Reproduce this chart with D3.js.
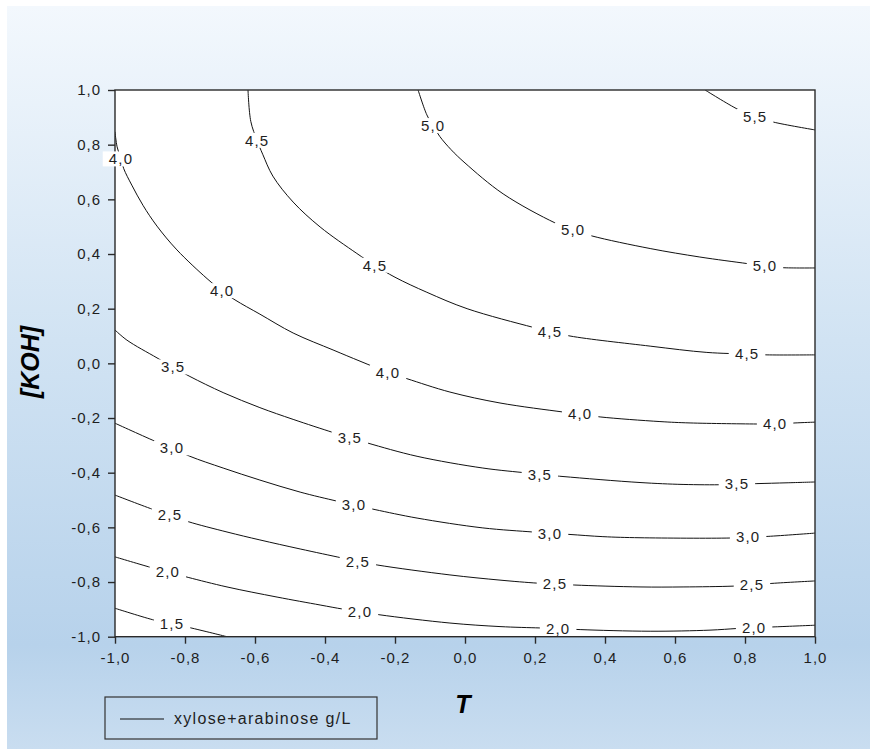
<!DOCTYPE html>
<html>
<head>
<meta charset="utf-8">
<script src="https://cdn.jsdelivr.net/npm/d3@7"></script>
<style>
body { margin: 0; background: #fff; }
text { font-family: Arial, "Liberation Sans", sans-serif; }
</style>
</head>
<body>
<div id="chart"></div>
<script>
/* global d3 */

// Contour levels (xylose+arabinose g/L)
const levels = [1.5, 2.0, 2.5, 3.0, 3.5, 4.0, 4.5, 5.0, 5.5];

// Traced contour points [T, KOH]
const line15 = [[-1, -0.896], [-0.886, -0.940], [-0.837, -0.953], [-0.786, -0.967], [-0.680, -1.0]];
const line20 = [[-1, -0.708], [-0.891, -0.749], [-0.849, -0.763], [-0.791, -0.783], [-0.680, -0.818], [-0.537, -0.855],
    [-0.414, -0.884], [-0.349, -0.899], [-0.300, -0.908], [-0.243, -0.920], [-0.043, -0.950], [0.100, -0.963],
    [0.214, -0.968], [0.266, -0.970], [0.329, -0.974], [0.529, -0.980], [0.700, -0.976], [0.777, -0.970],
    [0.826, -0.967], [0.886, -0.964], [1, -0.958]];
const line25 = [[-1, -0.482], [-0.886, -0.537], [-0.843, -0.555], [-0.791, -0.579], [-0.680, -0.617], [-0.586, -0.646],
    [-0.471, -0.679], [-0.351, -0.712], [-0.306, -0.724], [-0.249, -0.738], [-0.043, -0.774], [0.100, -0.793],
    [0.206, -0.804], [0.257, -0.807], [0.314, -0.811], [0.500, -0.818], [0.623, -0.818], [0.766, -0.815],
    [0.820, -0.811], [0.877, -0.805], [1, -0.796]];
const line30 = [[-1, -0.219], [-0.880, -0.288], [-0.837, -0.310], [-0.786, -0.340], [-0.691, -0.383], [-0.586, -0.427],
    [-0.471, -0.471], [-0.366, -0.504], [-0.317, -0.518], [-0.257, -0.535], [-0.137, -0.566], [0.051, -0.602],
    [0.194, -0.617], [0.243, -0.622], [0.300, -0.626], [0.394, -0.634], [0.500, -0.638], [0.757, -0.639],
    [0.809, -0.636], [0.866, -0.633], [1, -0.621]];
const line35 = [[-1, 0.122], [-0.966, 0.085], [-0.880, 0.020], [-0.834, -0.014], [-0.786, -0.048], [-0.691, -0.107],
    [-0.586, -0.162], [-0.491, -0.205], [-0.377, -0.253], [-0.329, -0.272], [-0.277, -0.292], [-0.137, -0.340],
    [0.051, -0.383], [0.177, -0.401], [0.214, -0.406], [0.280, -0.414], [0.500, -0.436], [0.623, -0.443],
    [0.737, -0.444], [0.777, -0.442], [0.834, -0.440], [0.920, -0.437], [1, -0.434]];
const line40 = [[-1, 0.847], [-0.994, 0.792], [-0.983, 0.747], [-0.975, 0.712], [-0.952, 0.652], [-0.920, 0.578],
    [-0.880, 0.502], [-0.823, 0.415], [-0.737, 0.310], [-0.694, 0.265], [-0.657, 0.232], [-0.586, 0.180],
    [-0.491, 0.111], [-0.377, 0.049], [-0.300, 0.008], [-0.220, -0.033], [-0.166, -0.056], [-0.043, -0.105],
    [0.100, -0.145], [0.280, -0.178], [0.329, -0.186], [0.386, -0.196], [0.557, -0.213], [0.643, -0.218],
    [0.843, -0.222], [0.886, -0.222], [0.943, -0.218], [1, -0.215]];
const line45 = [[-0.620, 1], [-0.612, 0.885], [-0.594, 0.815], [-0.578, 0.765], [-0.549, 0.685], [-0.491, 0.590],
    [-0.414, 0.499], [-0.309, 0.402], [-0.257, 0.358], [-0.200, 0.315], [-0.109, 0.260], [0.006, 0.200],
    [0.194, 0.132], [0.243, 0.117], [0.300, 0.100], [0.529, 0.063], [0.691, 0.040], [0.806, 0.034],
    [0.863, 0.031], [1, 0.031]];
const line50 = [[-0.134, 1], [-0.109, 0.909], [-0.091, 0.869], [-0.072, 0.830], [-0.040, 0.782], [0.0, 0.733],
    [0.109, 0.620], [0.257, 0.514], [0.309, 0.488], [0.363, 0.466], [0.529, 0.420], [0.671, 0.389],
    [0.806, 0.365], [0.857, 0.356], [0.906, 0.350], [1, 0.349]];
const line55 = [[0.686, 1], [0.780, 0.929], [0.829, 0.903], [0.880, 0.883], [1, 0.854]];

// Label positions on each contour [T, KOH]
const labels15 = [[-0.837, -0.953]];
const labels20 = [[-0.849, -0.763], [-0.300, -0.908], [0.266, -0.970], [0.826, -0.967]];
const labels25 = [[-0.843, -0.555], [-0.306, -0.724], [0.257, -0.807], [0.820, -0.811]];
const labels30 = [[-0.837, -0.310], [-0.317, -0.518], [0.243, -0.622], [0.809, -0.636]];
const labels35 = [[-0.834, -0.014], [-0.329, -0.272], [0.214, -0.406], [0.777, -0.442]];
const labels40 = [[-0.983, 0.747], [-0.694, 0.265], [-0.220, -0.033], [0.329, -0.186], [0.886, -0.222]];
const labels45 = [[-0.594, 0.815], [-0.257, 0.358], [0.243, 0.117], [0.806, 0.034]];
const labels50 = [[-0.091, 0.869], [0.309, 0.488], [0.857, 0.356]];
const labels55 = [[0.829, 0.903]];

const contourLines = [line15, line20, line25, line30, line35, line40, line45, line50, line55];
const contourLabels = [labels15, labels20, labels25, labels30, labels35, labels40, labels45, labels50, labels55];

// Axis ticks
const xTicks = [-1.0, -0.8, -0.6, -0.4, -0.2, 0.0, 0.2, 0.4, 0.6, 0.8, 1.0];
const yTicks = [-1.0, -0.8, -0.6, -0.4, -0.2, 0.0, 0.2, 0.4, 0.6, 0.8, 1.0];
const xTitle = "T";
const yTitle = "[KOH]";
const legendLabel = "xylose+arabinose g/L";

// Dimensions
const width = 872, height = 749;
const plot = { left: 115, right: 815, top: 90, bottom: 636.7 };
const ink = "#1e1e1e";

// Decimal comma formatting
const locale = d3.formatLocale({ decimal: ",", thousands: ".", grouping: [3], currency: ["", ""], minus: "-" });
const fmt = locale.format(".1f");

const x = d3.scaleLinear().domain([-1, 1]).range([plot.left, plot.right]);
const y = d3.scaleLinear().domain([-1, 1]).range([plot.bottom, plot.top]);

const svg = d3.select("#chart").append("svg")
    .attr("width", width)
    .attr("height", height);

// Background gradient
const defs = svg.append("defs");
const grad = defs.append("linearGradient")
    .attr("id", "bg")
    .attr("x1", 0).attr("y1", 0).attr("x2", 0).attr("y2", 1);
grad.append("stop").attr("offset", "0%").attr("stop-color", "#f3f8fd");
grad.append("stop").attr("offset", "45%").attr("stop-color", "#d1e3f3");
grad.append("stop").attr("offset", "86%").attr("stop-color", "#b7d2eb");
grad.append("stop").attr("offset", "100%").attr("stop-color", "#c9ddf0");

defs.append("clipPath")
    .attr("id", "plotClip")
    .append("rect")
    .attr("x", plot.left)
    .attr("y", plot.top)
    .attr("width", plot.right - plot.left)
    .attr("height", plot.bottom - plot.top);

svg.append("rect")
    .attr("x", 7)
    .attr("y", 6)
    .attr("width", width - 9)
    .attr("height", height - 6)
    .style("fill", "url(#bg)");

// Plot area
svg.append("rect")
    .attr("x", plot.left)
    .attr("y", plot.top)
    .attr("width", plot.right - plot.left)
    .attr("height", plot.bottom - plot.top)
    .style("fill", "#fff");

// Contour lines
const line = d3.line()
    .x(d => x(d[0]))
    .y(d => y(d[1]))
    .curve(d3.curveCatmullRom.alpha(0.5));

svg.append("g")
    .attr("clip-path", "url(#plotClip)")
    .selectAll("path")
    .data(contourLines)
    .join("path")
    .attr("d", line)
    .style("fill", "none")
    .style("stroke", "#111")
    .style("stroke-width", 1);

// Frame
svg.append("rect")
    .attr("x", plot.left)
    .attr("y", plot.top)
    .attr("width", plot.right - plot.left)
    .attr("height", plot.bottom - plot.top)
    .style("fill", "none")
    .style("stroke", "#2a2a2a")
    .style("stroke-width", 1.4);

// Axes
const xAxis = svg.append("g")
    .attr("transform", `translate(0,${plot.bottom})`)
    .call(d3.axisBottom(x).tickValues(xTicks).tickFormat(fmt).tickSize(7).tickSizeOuter(0));
const yAxis = svg.append("g")
    .attr("transform", `translate(${plot.left},0)`)
    .call(d3.axisLeft(y).tickValues(yTicks).tickFormat(fmt).tickSize(7).tickSizeOuter(0));

[xAxis, yAxis].forEach(a => {
    a.select(".domain").remove();
    a.selectAll(".tick line").style("stroke", "#2a2a2a").style("stroke-width", 1.4);
    a.selectAll(".tick text")
        .style("font-size", "15px")
        .style("letter-spacing", "1px")
        .style("fill", ink);
});
xAxis.selectAll(".tick text").attr("y", 16);
yAxis.selectAll(".tick text").attr("x", -14);

// Contour labels with white backing
const labelData = [];
contourLabels.forEach((arr, i) => arr.forEach(p => labelData.push({ level: levels[i], p: p })));

const lbl = svg.append("g")
    .selectAll("g")
    .data(labelData)
    .join("g")
    .attr("transform", d => `translate(${x(d.p[0])},${y(d.p[1])})`);

lbl.append("rect").style("fill", "#fff");
lbl.append("text")
    .attr("text-anchor", "middle")
    .attr("dy", "0.35em")
    .style("font-size", "15px")
    .style("letter-spacing", "1.2px")
    .style("fill", ink)
    .text(d => fmt(d.level));
lbl.each(function () {
    const g = d3.select(this);
    const b = g.select("text").node().getBBox();
    g.select("rect")
        .attr("x", b.x - 6)
        .attr("y", b.y + 1)
        .attr("width", b.width + 12)
        .attr("height", b.height - 2);
});

// Axis titles
svg.append("text")
    .attr("x", 463)
    .attr("y", 713)
    .attr("text-anchor", "middle")
    .style("font-size", "25px")
    .style("font-weight", "bold")
    .style("font-style", "italic")
    .style("fill", "#000")
    .text(xTitle);

svg.append("text")
    .attr("transform", "translate(39,362) rotate(-90)")
    .attr("text-anchor", "middle")
    .style("font-size", "25px")
    .style("font-weight", "bold")
    .style("font-style", "italic")
    .style("fill", "#000")
    .text(yTitle);

// Legend
const legend = svg.append("g").attr("transform", "translate(105,697)");
legend.append("rect")
    .attr("width", 272)
    .attr("height", 42)
    .style("fill", "none")
    .style("stroke", "#333")
    .style("stroke-width", 1.2);
legend.append("line")
    .attr("x1", 15).attr("x2", 59)
    .attr("y1", 22).attr("y2", 22)
    .style("stroke", "#111");
legend.append("text")
    .attr("x", 69)
    .attr("y", 27)
    .style("font-size", "16px")
    .style("letter-spacing", "1.3px")
    .style("fill", ink)
    .text(legendLabel);
</script>
</body>
</html>
